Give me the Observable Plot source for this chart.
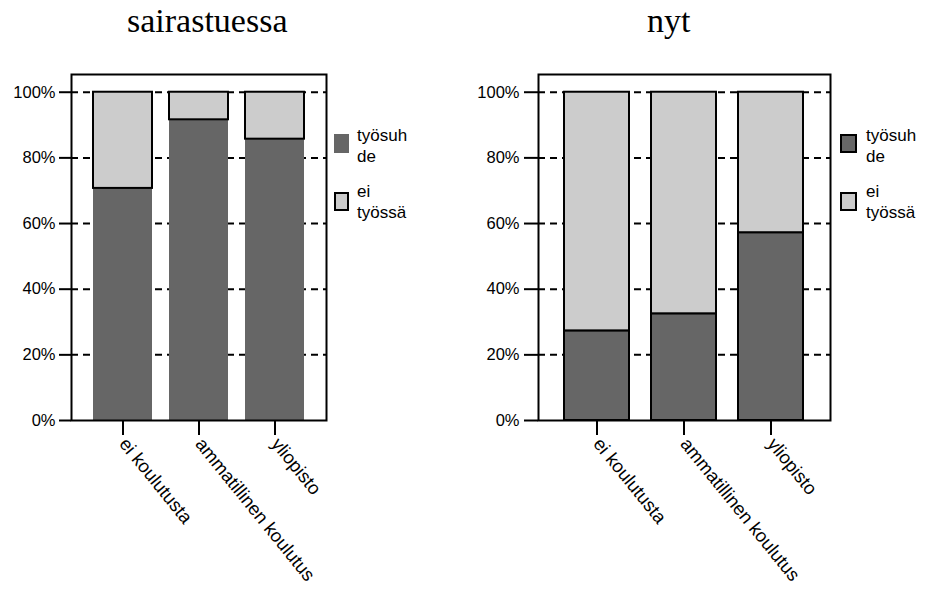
<!DOCTYPE html>
<html>
<head>
<meta charset="utf-8">
<script src="https://cdn.jsdelivr.net/npm/d3@7"></script>
<script src="https://cdn.jsdelivr.net/npm/@observablehq/plot@0.6"></script>
<style>
  html, body { margin: 0; padding: 0; background: #fff; }
  #root { position: relative; width: 931px; height: 592px; overflow: hidden; font-family: "Liberation Sans", Arial, sans-serif; }
  .panel { position: absolute; top: 0; }
  .title { position: absolute; top: 4px; font-family: "Liberation Serif", "Times New Roman", serif; font-size: 34px; line-height: 34px; color: #000; white-space: nowrap; }
  .sw { position: absolute; box-sizing: border-box; }
  .lt { position: absolute; font-size: 17px; line-height: 21px; color: #000; white-space: nowrap; }
</style>
</head>
<body>
<div id="root"></div>
<script>
// ---- data ----
const categories = ["ei koulutusta", "ammatillinen koulutus", "yliopisto"];
const seriesNames = ["työsuhde", "ei työssä"];
const panelTitles = ["sairastuessa", "nyt"];
// share employed (työsuhde) and not employed (ei työssä), per category
const employedAtOnset = [0.707, 0.916, 0.857];
const notEmployedAtOnset = [0.293, 0.084, 0.143];
const employedNow = [0.273, 0.325, 0.572];
const notEmployedNow = [0.727, 0.675, 0.428];
const yTicks = [0, 0.2, 0.4, 0.6, 0.8, 1.0];
const legendLines = [["työsuh", "de"], ["ei", "työssä"]];
const colors = ["#666666", "#cccccc"];

const root = document.getElementById("root");

function panel({left, width, marginLeft, marginRight, emp, notEmp, darkStroke, tickSizeY, tickPadY, pIn, pOut}) {
  const chart = Plot.plot({
    width, height: 592,
    marginTop: 74, marginBottom: 172, marginLeft, marginRight,
    style: {fontFamily: "'Liberation Sans', Arial, sans-serif", fontSize: "17px", color: "#000", background: "transparent"},
    x: {domain: categories, paddingInner: pIn, paddingOuter: pOut, label: null},
    y: {domain: [0, 1.054], label: null},
    marks: [
      Plot.ruleY(yTicks.slice(1), {stroke: "#000", strokeWidth: 2, strokeDasharray: "7,5"}),
      Plot.barY(categories, {x: d => d, y1: 0, y2: (d, i) => emp[i], fill: colors[0],
        stroke: darkStroke ? "#000" : "none", strokeWidth: 2}),
      Plot.barY(categories, {x: d => d, y1: (d, i) => emp[i], y2: (d, i) => emp[i] + notEmp[i], fill: colors[1],
        stroke: "#000", strokeWidth: 2}),
      Plot.frame({stroke: "#000", strokeWidth: 2}),
      Plot.axisY({ticks: yTicks, tickFormat: d => Math.round(d * 100) + "%", tickSize: tickSizeY, tickPadding: tickPadY,
        strokeWidth: 2, fontSize: 16.5, label: null}),
      Plot.axisX({tickSize: 15, tickPadding: 5, tickRotate: 51, strokeWidth: 2, fontSize: 18.5, label: null})
    ]
  });
  chart.classList.add("panel");
  chart.style.left = left + "px";
  root.appendChild(chart);
}

panel({left: 0, width: 465, marginLeft: 71, marginRight: 139, emp: employedAtOnset, notEmp: notEmployedAtOnset,
  darkStroke: false, tickSizeY: 12, tickPadY: 4, pIn: 0.229, pOut: 0.281});
panel({left: 465, width: 466, marginLeft: 73, marginRight: 101, emp: employedNow, notEmp: notEmployedNow,
  darkStroke: true, tickSizeY: 14, tickPadY: 5, pIn: 0.252, pOut: 0.289});

// titles
[[panelTitles[0], 127], [panelTitles[1], 647]].forEach(([t, x]) => {
  const d = document.createElement("div");
  d.className = "title"; d.textContent = t; d.style.left = x + "px";
  root.appendChild(d);
});

// legends
function legend(swX, swW, textX, darkBorder) {
  const swY = [134, 191.5];
  const txtY = [125, 181];
  for (let k = 0; k < 2; k++) {
    const s = document.createElement("div");
    s.className = "sw";
    s.style.left = swX + "px"; s.style.top = swY[k] + "px";
    s.style.width = swW + "px"; s.style.height = "19px";
    s.style.background = colors[k];
    if (k === 1 || darkBorder) s.style.border = "2px solid #000";
    root.appendChild(s);
    const t = document.createElement("div");
    t.className = "lt";
    t.style.left = textX + "px"; t.style.top = txtY[k] + "px";
    t.innerHTML = legendLines[k].join("<br>");
    root.appendChild(t);
  }
}
legend(334, 15, 357, false);
legend(840, 17, 866, true);
</script>
</body>
</html>
